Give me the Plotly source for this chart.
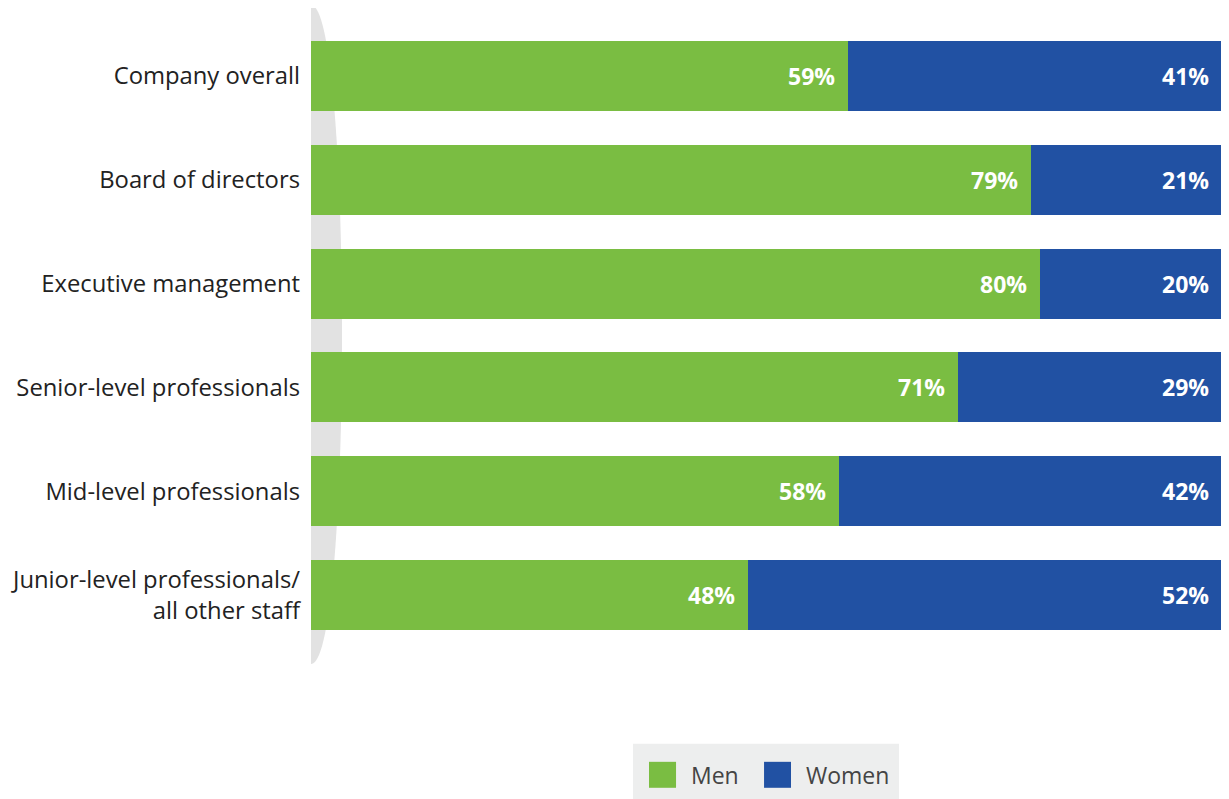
import plotly.graph_objects as go

categories = ["Company overall", "Board of directors", "Executive management",
              "Senior-level professionals", "Mid-level professionals",
              "Junior-level professionals/<br>all other staff"]
men = [59, 79, 80, 71, 58, 48]
women = [41, 21, 20, 29, 42, 52]
series_names = ["Men", "Women"]

GREEN = "#7ABD42"
BLUE = "#2151A3"
FONT = "Open Sans"

fig = go.Figure()
fig.add_trace(go.Bar(y=categories, x=men, orientation="h", name=series_names[0],
                     marker=dict(color=GREEN, line=dict(width=0))))
fig.add_trace(go.Bar(y=categories, x=women, orientation="h", name=series_names[1],
                     marker=dict(color=BLUE, line=dict(width=0))))

ann = []
for c, m, w in zip(categories, men, women):
    ann.append(dict(x=m, y=c, xref="x", yref="y", text=f"<b>{m}%</b>", showarrow=False,
                    xanchor="right", xshift=-11, font=dict(family=FONT, size=23, color="white")))
    ann.append(dict(x=m + w, y=c, xref="x", yref="y", text=f"<b>{w}%</b>", showarrow=False,
                    xanchor="right", xshift=-11, font=dict(family=FONT, size=23, color="white")))

# manual legend (large square swatches)
ann.append(dict(x=0.4149, y=-0.2051, xref="paper", yref="paper", text=series_names[0],
                showarrow=False, xanchor="left", yanchor="middle",
                font=dict(family=FONT, size=23, color="#444444")))
ann.append(dict(x=0.5412, y=-0.2051, xref="paper", yref="paper", text=series_names[1],
                showarrow=False, xanchor="left", yanchor="middle",
                font=dict(family=FONT, size=23, color="#444444")))

shapes = [
    dict(type="path", xref="paper", yref="paper", layer="below",
         path="M 0,1.0304 C 0.0454,1.0304 0.0454,-0.0272 0,-0.0272 Z",
         fillcolor="#E2E2E2", line=dict(width=0)),
    dict(type="rect", xref="paper", yref="paper", x0=0.3535, x1=0.6454, y0=-0.26, y1=-0.1554,
         fillcolor="#EDEEEE", line=dict(width=0)),
    dict(type="rect", xref="paper", yref="paper", x0=0.3710, x1=0.4007, y0=-0.226, y1=-0.1843,
         fillcolor=GREEN, line=dict(width=0)),
    dict(type="rect", xref="paper", yref="paper", x0=0.4973, x1=0.5269, y0=-0.226, y1=-0.1843,
         fillcolor=BLUE, line=dict(width=0)),
]

fig.update_layout(
    width=1221, height=791,
    margin=dict(l=303, r=7, t=15.5, b=151.5),
    barmode="stack", bargap=0.327,
    plot_bgcolor="white", paper_bgcolor="white",
    font=dict(family=FONT, size=23.8, color="#222222"),
    xaxis=dict(range=[0, 100], visible=False, automargin=False),
    yaxis=dict(autorange="reversed", showgrid=False, zeroline=False, showline=False,
               automargin=False, ticks="", ticklabelstandoff=10,
               tickfont=dict(size=23.8, color="#222222")),
    showlegend=False,
    annotations=ann,
    shapes=shapes,
)
fig.write_html("out.html")
